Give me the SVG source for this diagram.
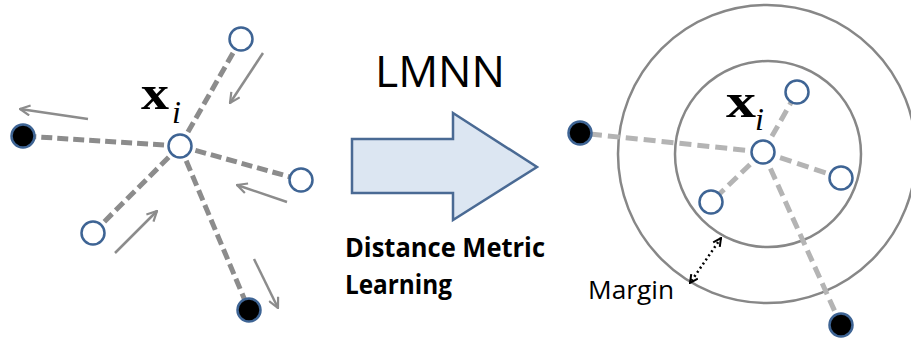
<svg xmlns="http://www.w3.org/2000/svg" width="911" height="345" viewBox="0 0 911 345">
<defs>
<style>
.dl{stroke:#8c8c8c;stroke-width:5;stroke-dasharray:11 5;fill:none}
.dr{stroke:#b4b4b4;stroke-width:5;stroke-dasharray:12 6;fill:none}
.ga{stroke:#8c8c8c;stroke-width:2.5;fill:none;marker-end:url(#ah)}
.open{fill:#fff;stroke:#3e6494;stroke-width:2.5}
.blk{fill:#000;stroke:#3e6494;stroke-width:2.5}
.ring{fill:none;stroke:#878787;stroke-width:2.5}
.xb{font-family:"Liberation Serif",serif;font-weight:bold;font-size:48px;fill:#000}
.xi{font-family:"Liberation Serif",serif;font-style:italic;font-size:32px;fill:#000}
</style>
<marker id="ah" viewBox="0 0 12 12" refX="11" refY="6" markerWidth="12" markerHeight="12" markerUnits="userSpaceOnUse" orient="auto">
<path d="M1,1 L11,6 L1,11" fill="none" stroke="#8c8c8c" stroke-width="2.2"/>
</marker>
<marker id="mh" viewBox="0 0 10 10" refX="9" refY="5" markerWidth="10" markerHeight="10" markerUnits="userSpaceOnUse" orient="auto-start-reverse">
<path d="M1,1 L9,5 L1,9" fill="none" stroke="#000" stroke-width="2"/>
</marker>
</defs>
<rect width="911" height="345" fill="#fff"/>

<g id="rings">
<circle class="ring" cx="767" cy="154" r="149"/>
<circle class="ring" cx="768" cy="154" r="93"/>
</g>

<g id="connectors">
<line class="dl" x1="180" y1="146" x2="23" y2="136"/>
<line class="dl" x1="180" y1="146" x2="241" y2="39"/>
<line class="dl" x1="180" y1="146" x2="301" y2="180"/>
<line class="dl" x1="180" y1="146" x2="93" y2="233"/>
<line class="dl" x1="180" y1="146" x2="249" y2="310"/>
<line class="ga" x1="88" y1="119" x2="20" y2="109"/>
<line class="ga" x1="263" y1="53" x2="230" y2="103"/>
<line class="ga" x1="287" y1="202" x2="237" y2="185"/>
<line class="ga" x1="115" y1="253" x2="157" y2="211"/>
<line class="ga" x1="254" y1="259" x2="278" y2="308"/>
<line class="dr" x1="763" y1="152" x2="580" y2="133"/>
<line class="dr" x1="763" y1="152" x2="797" y2="92"/>
<line class="dr" x1="763" y1="152" x2="841" y2="178"/>
<line class="dr" x1="763" y1="152" x2="711" y2="202"/>
<line class="dr" x1="763" y1="152" x2="841" y2="325"/>
<line x1="721" y1="238" x2="690" y2="283" stroke="#000" stroke-width="2.5" stroke-dasharray="2 3" marker-start="url(#mh)" marker-end="url(#mh)"/>
</g>

<g id="left-xi"><circle class="open" cx="180" cy="146" r="11.5"/></g>
<g id="left-n1"><circle class="open" cx="241" cy="39" r="11.5"/></g>
<g id="left-n2"><circle class="blk" cx="23" cy="136" r="11.5"/></g>
<g id="left-n3"><circle class="open" cx="301" cy="180" r="11.5"/></g>
<g id="left-n4"><circle class="open" cx="93" cy="233" r="11.5"/></g>
<g id="left-n5"><circle class="blk" cx="249" cy="310" r="11.5"/></g>
<g id="left-label"><text class="xb" x="141" y="109" textLength="28" lengthAdjust="spacingAndGlyphs">x</text><text class="xi" x="172" y="123">i</text></g>

<g id="lmnn-arrow">
<text x="375" y="87" font-family="'Open Sans',sans-serif" font-size="43" fill="#000" textLength="130" lengthAdjust="spacingAndGlyphs">LMNN</text>
<polygon points="352,139 453,139 453,113 537,167 453,220 453,193 352,193" fill="#dce6f2" stroke="#4a6a94" stroke-width="2.5" stroke-linejoin="miter"/>
<text x="345" y="257" font-family="'Open Sans',sans-serif" font-weight="bold" font-size="26" fill="#000" textLength="200" lengthAdjust="spacingAndGlyphs">Distance Metric</text>
<text x="345" y="294" font-family="'Open Sans',sans-serif" font-weight="bold" font-size="26" fill="#000" textLength="107" lengthAdjust="spacingAndGlyphs">Learning</text>
</g>

<g id="right-xi"><circle class="open" cx="763" cy="152" r="11.5"/></g>
<g id="right-n1"><circle class="open" cx="797" cy="92" r="11.5"/></g>
<g id="right-n2"><circle class="blk" cx="580" cy="133" r="11.5"/></g>
<g id="right-n3"><circle class="open" cx="841" cy="178" r="11.5"/></g>
<g id="right-n4"><circle class="open" cx="711" cy="202" r="11.5"/></g>
<g id="right-n5"><circle class="blk" cx="841" cy="325" r="11.5"/></g>
<g id="right-label"><text class="xb" x="726" y="117" textLength="30" lengthAdjust="spacingAndGlyphs">x</text><text class="xi" x="755" y="130">i</text></g>
<g id="margin-label"><text x="588" y="299" font-family="'Open Sans',sans-serif" font-size="25" fill="#000" textLength="86" lengthAdjust="spacingAndGlyphs">Margin</text></g>
</svg>
